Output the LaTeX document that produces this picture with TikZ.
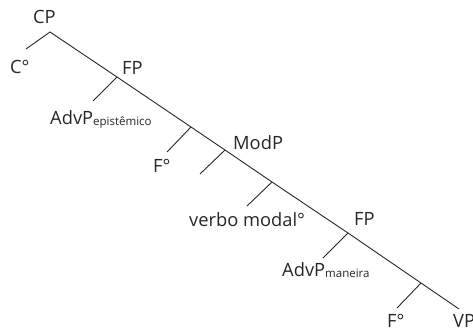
\documentclass[tikz,border=0pt]{standalone}
\usepackage{fontspec}
\setmainfont{Open Sans}
\begin{document}
\begin{tikzpicture}[x=1pt,y=-1pt,
  lbl/.style={anchor=base west,inner sep=0pt,font=\fontsize{18.3}{22}\selectfont,text=black!85},
  sub/.style={},
  edge/.style={line width=0.9pt,black!85}]
\useasboundingbox (0,0) rectangle (473,330);
% main spine coordinates
\coordinate (cp) at (50,32);
\coordinate (fp1) at (117,77);
\coordinate (f1) at (191,127);
\coordinate (mod) at (225,150);
\coordinate (vm) at (272,182);
\coordinate (fp2) at (348,233);
\coordinate (f2) at (421,283);
\coordinate (vpend) at (459,309);
% branch ends
\coordinate (cend) at (26,49);
\coordinate (adv1end) at (93,101);
\coordinate (f1end) at (167,152);
\coordinate (modend) at (200,174);
\coordinate (vmend) at (247,206);
\coordinate (adv2end) at (323,258);
\coordinate (f2end) at (397,308);
\draw[edge] (cend) -- (cp) -- (fp1) -- (f1) -- (mod) -- (vm) -- (fp2) -- (f2) -- (vpend);
\draw[edge] (fp1) -- (adv1end);
\draw[edge] (f1) -- (f1end);
\draw[edge] (mod) -- (modend);
\draw[edge] (vm) -- (vmend);
\draw[edge] (fp2) -- (adv2end);
\draw[edge] (f2) -- (f2end);
% labels
\node[lbl] (lcp) at (33,23) {CP};
\node[lbl] (lc) at (10,73) {C°};
\node[lbl] (lfp1) at (122,74) {FP};
\node[lbl] (ladv1) at (50,124) {AdvP{\fontsize{11.5}{13}\selectfont\raisebox{-1.5pt}{epistêmico}}};
\node[lbl] (lf1) at (153,172) {F°};
\node[lbl] (lmod) at (233,149) {ModP};
\node[lbl] (lvm) at (189,226) {verbo modal°};
\node[lbl] (lfp2) at (354,225) {FP};
\node[lbl] (ladv2) at (282,276) {AdvP{\fontsize{11.5}{13}\selectfont\raisebox{-1.5pt}{maneira}}};
\node[lbl] (lf2) at (387,327) {F°};
\node[lbl] (lvp) at (453,327) {VP};
\end{tikzpicture}
\end{document}
